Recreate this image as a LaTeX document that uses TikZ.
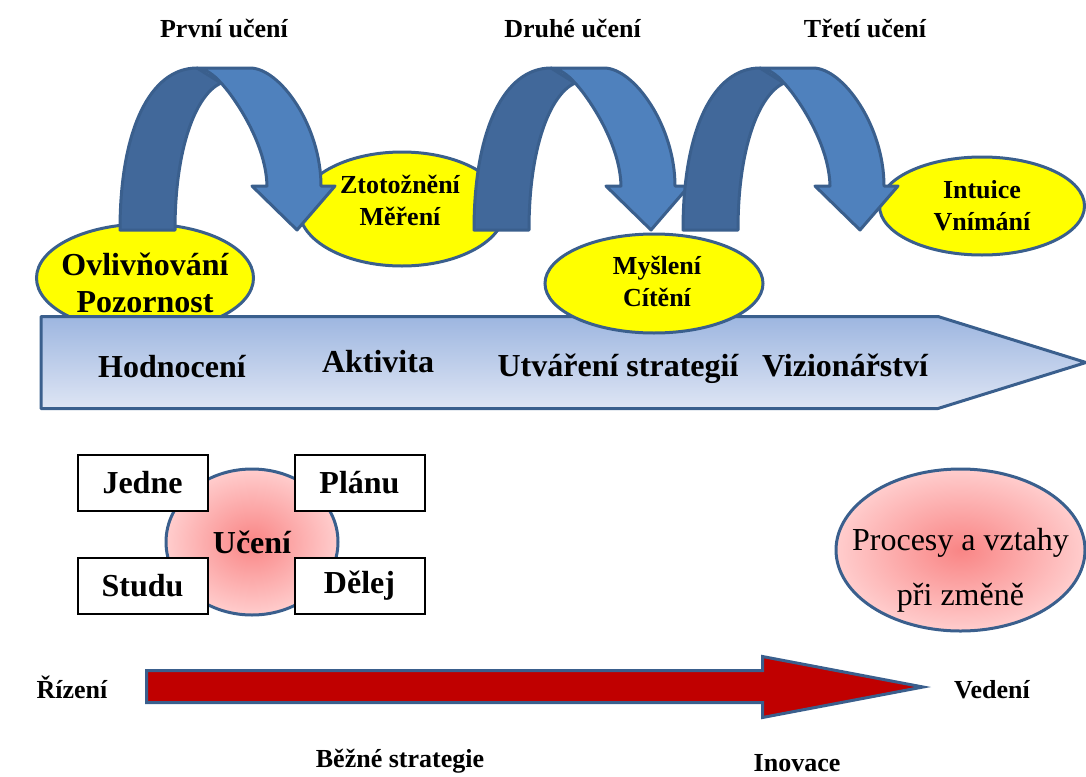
\documentclass[tikz,border=0pt]{standalone}
\usepackage{fontspec}
\setmainfont{Liberation Serif}
\usepackage{tikz}
\usetikzlibrary{shapes.geometric, positioning}
\definecolor{azuloscuro}{HTML}{41689A}
\definecolor{azulclaro}{HTML}{4F81BD}
\definecolor{borde}{HTML}{3A5F8D}
\definecolor{barraarriba}{HTML}{9DB6E0}
\definecolor{barraabajo}{HTML}{DEE5F4}
\definecolor{rosaoscuro}{HTML}{F98585}
\definecolor{rosaclaro}{HTML}{FFCDCD}
\definecolor{rojo}{HTML}{C00000}
\definecolor{amarillo}{RGB}{255,255,0}
\tikzset{
	elipse/.style={ellipse, draw=borde, line width=1.5pt, fill=amarillo, inner sep=0pt}, % Ovalos amarillos
	texto/.style={align=center, font=\fontsize{13}{16}\selectfont\bfseries}, % Texto dentro de los ovalos
	titulo/.style={anchor=base, font=\fontsize{13}{16}\selectfont\bfseries}, % Textos sueltos
	etapa/.style={anchor=base, font=\fontsize{16}{19}\selectfont\bfseries}, % Textos de la barra
	caja/.style={draw, line width=1pt, fill=white, minimum width=65pt, minimum height=28pt, font=\fontsize{16}{19}\selectfont\bfseries}, % Cajas blancas
	rosa/.style={ellipse, draw=borde, line width=1.5pt, inner color=rosaoscuro, outer color=rosaclaro, inner sep=0pt}, % Ovalos rosas
	oscuro/.style={fill=azuloscuro, draw=borde, line width=1.5pt, line join=round}, % Subida de la flecha
	claro/.style={fill=azulclaro, draw=borde, line width=1.5pt, line join=round} % Bajada de la flecha
}

\begin{document}
\begin{tikzpicture}[x=0.5pt, y=-0.5pt]
	\useasboundingbox (0,0) rectangle (1086,776);
	% ovalos y barra
	\node[elipse, minimum width=108.5pt, minimum height=54pt] (ovl) at (145,278) {};
	\draw[borde, line width=1.5pt, line join=round, top color=barraarriba, bottom color=barraabajo]
		(41,316.5) -- (938,316.5) -- (1086,362.5) -- (938,408.5) -- (41,408.5) -- cycle;
	\node[elipse, minimum width=103pt, minimum height=57pt] (ztot) at (402,209) {};
	\node[elipse, minimum width=109pt, minimum height=49.5pt] (mys) at (654,283.5) {};
	\node[elipse, minimum width=102.5pt, minimum height=49pt] (int) at (982,206) {};
	% flechas curvas
	\foreach \dx in {0,354,563}{
		\begin{scope}[shift={(\dx,0)}]
			\draw[oscuro] (120,230) -- (175,230) .. controls (175,150) and (195,95) .. (221,83)
				-- (197,68) .. controls (150,68) and (120,130) .. (120,230) -- cycle;
			\draw[claro] (197,68) -- (250,68) .. controls (280,68) and (321,126) .. (321,186)
				-- (335,186) -- (297,230) -- (252,186) -- (267,186)
				.. controls (266,140) and (230,92) .. (221,83)
				.. controls (214,75) and (206,69) .. (197,68) -- cycle;
		\end{scope}
	}
	% textos de arriba
	\node[texto, font=\fontsize{16}{18.5}\selectfont\bfseries] (ovl-t) at (145,283) {Ovlivňování\\Pozornost};
	\node[texto] (ztot-t) at (400,200) {Ztotožnění\\Měření};
	\node[texto] (mys-t) at (657,281) {Myšlení\\Cítění};
	\node[texto] (int-t) at (982,206) {Intuice\\Vnímání};
	\node[titulo] (prvni) at (224,37) {První učení};
	\node[titulo] (druhe) at (572.5,37) {Druhé učení};
	\node[titulo] (treti) at (865,37) {Třetí učení};
	\node[etapa] (hodn) at (172,377) {Hodnocení};
	\node[etapa] (akt) at (378,372) {Aktivita};
	\node[etapa] (utv) at (618,376) {Utváření strategií};
	\node[etapa] (viz) at (845,376) {Vizionářství};
	% uceni
	\node[rosa, minimum width=86pt, minimum height=73pt, font=\fontsize{16}{19}\selectfont\bfseries] (uceni) at (252,542) {Učení};
	\node[caja] (jedne) at (142.5,483) {Jedne};
	\node[caja] (planu) at (359.5,483) {Plánu};
	\node[caja] (studu) at (142.5,585.5) {Studu};
	\node[caja] (delej) at (359.5,585.5) {Dělej};
	\node[rosa, minimum width=124.5pt, minimum height=81pt] (procesy) at (960.5,550) {};
	\node[align=center, font=\fontsize{16}{27.5}\selectfont] (procesy-t) at (960.5,570) {Procesy a vztahy\\při změně};
	% flecha roja
	\draw[fill=rojo, draw=borde, line width=1.5pt] (146.5,670.5) -- (762.5,670.5) -- (762.5,656.5)
		-- (923,687) -- (762.5,717.5) -- (762.5,702.5) -- (146.5,702.5) -- cycle;
	\node[titulo] (rizeni) at (72,698) {Řízení};
	\node[titulo] (vedeni) at (992,698) {Vedení};
	\node[titulo] (bezne) at (400,767) {Běžné strategie};
	\node[titulo] (inovace) at (797,771) {Inovace};
\end{tikzpicture}
\end{document}
